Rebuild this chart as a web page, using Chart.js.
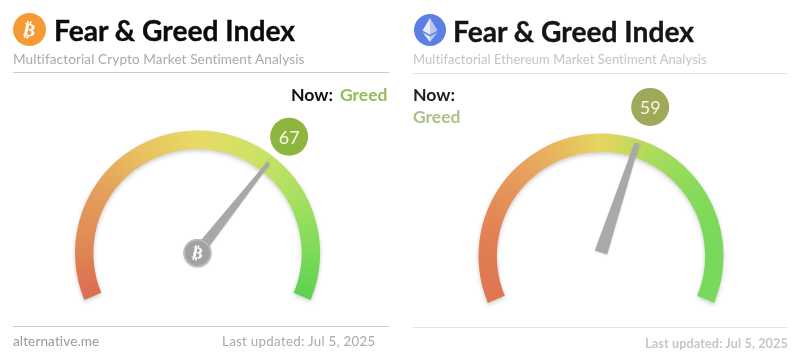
<!DOCTYPE html>
<html><head><meta charset="utf-8">
<script src="https://cdn.jsdelivr.net/npm/chart.js@4"></script>
<style>
html,body{margin:0;padding:0;background:#fff;width:800px;height:364px;overflow:hidden}
.panel{position:absolute;top:0;width:400px;height:364px}
#p1{left:0;filter:blur(.25px)}
#p2{left:400px;filter:blur(.5px)}
canvas{position:absolute;left:0;top:0}
.t{position:absolute;white-space:nowrap;line-height:20px;font-family:Lato,sans-serif}
.h{font-weight:700;font-size:28.2px;color:#0c0c0c;line-height:30px;-webkit-text-stroke:.35px currentColor}
.s{font-size:13.6px;letter-spacing:.1px}
.n{font-weight:700;font-size:17.7px;color:#111}
.g{font-weight:700;font-size:17.5px}
.r{position:absolute;height:1px}
.i{position:absolute;border-radius:50%}
.b{position:absolute;left:0;top:0;width:100%;height:100%;display:flex;align-items:center;justify-content:center;color:#fff;font:bold 18px "DejaVu Sans";transform:rotate(12deg)}
</style></head><body>
<div class="panel" id="p1">
 <canvas id="c1" width="400" height="364"></canvas>
 <div class="i" style="left:13px;top:13px;width:33px;height:33px;background:#f59a35"><div class="b">₿</div></div>
 <div class="t h" style="left:54px;top:15px">Fear &amp; Greed Index</div>
 <div class="t s" style="left:13px;top:49px;color:#aaa">Multifactorial Crypto Market Sentiment Analysis</div>
 <div class="r" style="left:13px;top:72px;width:376px;background:#ccc"></div>
 <div class="t n" style="left:291px;top:85px">Now:</div>
 <div class="t g" style="left:340px;top:85px;color:#94bd57">Greed</div>
 <div class="r" style="left:13px;top:326px;width:376px;background:#ccc"></div>
 <div class="t s" style="left:13px;top:331px;color:#999">alternative.me</div>
 <div class="t s" style="left:222px;top:331px;color:#aaa;font-size:13.3px;letter-spacing:.3px">Last updated: Jul 5, 2025</div>
</div>
<div class="panel" id="p2">
 <canvas id="c2" width="400" height="364"></canvas>
 <div class="i" style="left:14px;top:14px;width:32px;height:32px;background:#5b7fe3">
  <svg width="32" height="32" viewBox="0 0 32 32"><polygon points="16,4 8.5,16.5 16,20.8" fill="#e8edfb"/><polygon points="16,4 23.5,16.5 16,20.8" fill="#b9c8f3"/><polygon points="8.5,18.3 16,22.6 16,28" fill="#e8edfb"/><polygon points="23.5,18.3 16,22.6 16,28" fill="#b9c8f3"/></svg>
 </div>
 <div class="t h" style="left:53px;top:16px;color:#151515">Fear &amp; Greed Index</div>
 <div class="t s" style="left:13px;top:49px;color:#c4c4c4;font-size:12.95px">Multifactorial Ethereum Market Sentiment Analysis</div>
 <div class="r" style="left:13px;top:73px;width:374px;background:#e2e2e2"></div>
 <div class="t n" style="left:13px;top:85px;color:#222">Now:</div>
 <div class="t g" style="left:13px;top:107px;color:#abc287">Greed</div>
 <div class="r" style="left:13px;top:327px;width:374px;background:#e2e2e2"></div>
 <div class="t s" style="left:245px;top:333px;color:#c6c6c6;font-weight:700;font-size:12.7px">Last updated: Jul 5, 2025</div>
</div>
<script>
const gaugeLabels = ['Index', 'Remainder'];
const btcValues = [67, 33];
const ethValues = [59, 41];
const btcStops = ['#dc6c50','#e08a56','#e5a05b','#e8c260','#e8da65','#cfe264','#aee062','#84dc5a','#60d050'];
const ethStops = ['#e07550','#e17e52','#e5925a','#e8b05e','#e6d660','#a9dc5c','#86da5a','#78d95a','#78d95c'];

const SWEEP = 225;
const START = -112.5;

function conic(ctx, stops){
  const chart = ctx.chart;
  if (!chart.chartArea) return stops[0];
  const c = chart.getDatasetMeta(0).controller;
  const a = chart.chartArea;
  const x = (a.left + a.right) / 2 + (c.offsetX || 0);
  const y = (a.top + a.bottom) / 2 + (c.offsetY || 0);
  const g = chart.ctx.createConicGradient((START - 90) * Math.PI / 180, x, y);
  const f = SWEEP / 360;
  stops.forEach((s, i) => g.addColorStop(f * i / (stops.length - 1), s));
  g.addColorStop(1, stops[stops.length - 1]);
  return g;
}

const gaugeDecor = {
  id: 'gaugeDecor',
  beforeDatasetsDraw(chart){
    const ctx = chart.ctx; ctx.save();
    ctx.shadowColor = 'rgba(0,0,0,.2)'; ctx.shadowBlur = 4; ctx.shadowOffsetY = 2;
  },
  afterDatasetsDraw(chart, _a, o){
    const ctx = chart.ctx; ctx.restore();
    const arc = chart.getDatasetMeta(0).data[0];
    const ang = arc.endAngle + o.angleOffset * Math.PI / 180;
    const cx = arc.x + o.baseShift[0], cy = arc.y + o.baseShift[1];
    const ux = Math.cos(ang), uy = Math.sin(ang), px = -uy, py = ux;
    ctx.save();
    ctx.shadowColor = 'rgba(0,0,0,.15)'; ctx.shadowBlur = 2; ctx.shadowOffsetY = 1;
    ctx.fillStyle = o.needle;
    ctx.beginPath();
    ctx.moveTo(cx + px * o.baseW / 2, cy + py * o.baseW / 2);
    ctx.lineTo(cx - px * o.baseW / 2, cy - py * o.baseW / 2);
    const tx = cx + ux * o.length, ty = cy + uy * o.length;
    ctx.lineTo(tx - px * o.tipW / 2, ty - py * o.tipW / 2);
    ctx.lineTo(tx + px * o.tipW / 2, ty + py * o.tipW / 2);
    ctx.closePath(); ctx.fill();
    if (o.hub){
      ctx.fillStyle = '#a2a2a2';
      ctx.beginPath(); ctx.arc(arc.x, arc.y, 14, 0, Math.PI * 2); ctx.fill();
      ctx.shadowColor = 'transparent';
      ctx.strokeStyle = '#bdbdbd'; ctx.lineWidth = 1.5;
      ctx.beginPath(); ctx.arc(arc.x, arc.y, 13.2, 0, Math.PI * 2); ctx.stroke();
      ctx.translate(arc.x, arc.y); ctx.rotate(12 * Math.PI / 180);
      ctx.fillStyle = '#fff'; ctx.font = 'bold 16px "DejaVu Sans"';
      ctx.textAlign = 'center'; ctx.textBaseline = 'middle';
      ctx.fillText('₿', 0, 1);
    }
    ctx.restore();
    const bx = arc.x + Math.cos(ang) * o.badgeR, by = arc.y + Math.sin(ang) * o.badgeR;
    ctx.save();
    ctx.fillStyle = o.badge;
    ctx.beginPath(); ctx.arc(bx, by, 19, 0, Math.PI * 2); ctx.fill();
    ctx.fillStyle = '#f4f7ea'; ctx.font = '18px Lato';
    ctx.textAlign = 'center'; ctx.textBaseline = 'middle';
    ctx.fillText(String(chart.data.datasets[0].data[0]), bx, by + 1);
    ctx.restore();
  }
};

function gauge(id, values, stops, pad, decor){
  new Chart(document.getElementById(id), {
    type: 'doughnut',
    data: { labels: gaugeLabels, datasets: [{ data: values, borderWidth: 0, backgroundColor: ctx => conic(ctx, stops) }] },
    options: {
      responsive: false, animation: false, events: [],
      rotation: START, circumference: SWEEP, cutout: '85%', radius: 122.5,
      layout: { padding: pad },
      plugins: { legend: { display: false }, tooltip: { enabled: false }, gaugeDecor: decor }
    },
    plugins: [gaugeDecor]
  });
}

gauge('c1', btcValues, btcStops, {left:0,right:5,top:100,bottom:33.6},
  {angleOffset:0, baseShift:[0,0], baseW:11, tipW:3.5, length:115, needle:'#a8a8a8', hub:true, badge:'#8db53f', badgeR:148});
gauge('c2', ethValues, ethStops, {left:2,right:0,top:103,bottom:30.6},
  {angleOffset:-2, baseShift:[0,-3.5], baseW:13, tipW:5, length:115, needle:'#a9a9a9', hub:false, badge:'#a0a95a', badgeR:157});
</script>
</body></html>
